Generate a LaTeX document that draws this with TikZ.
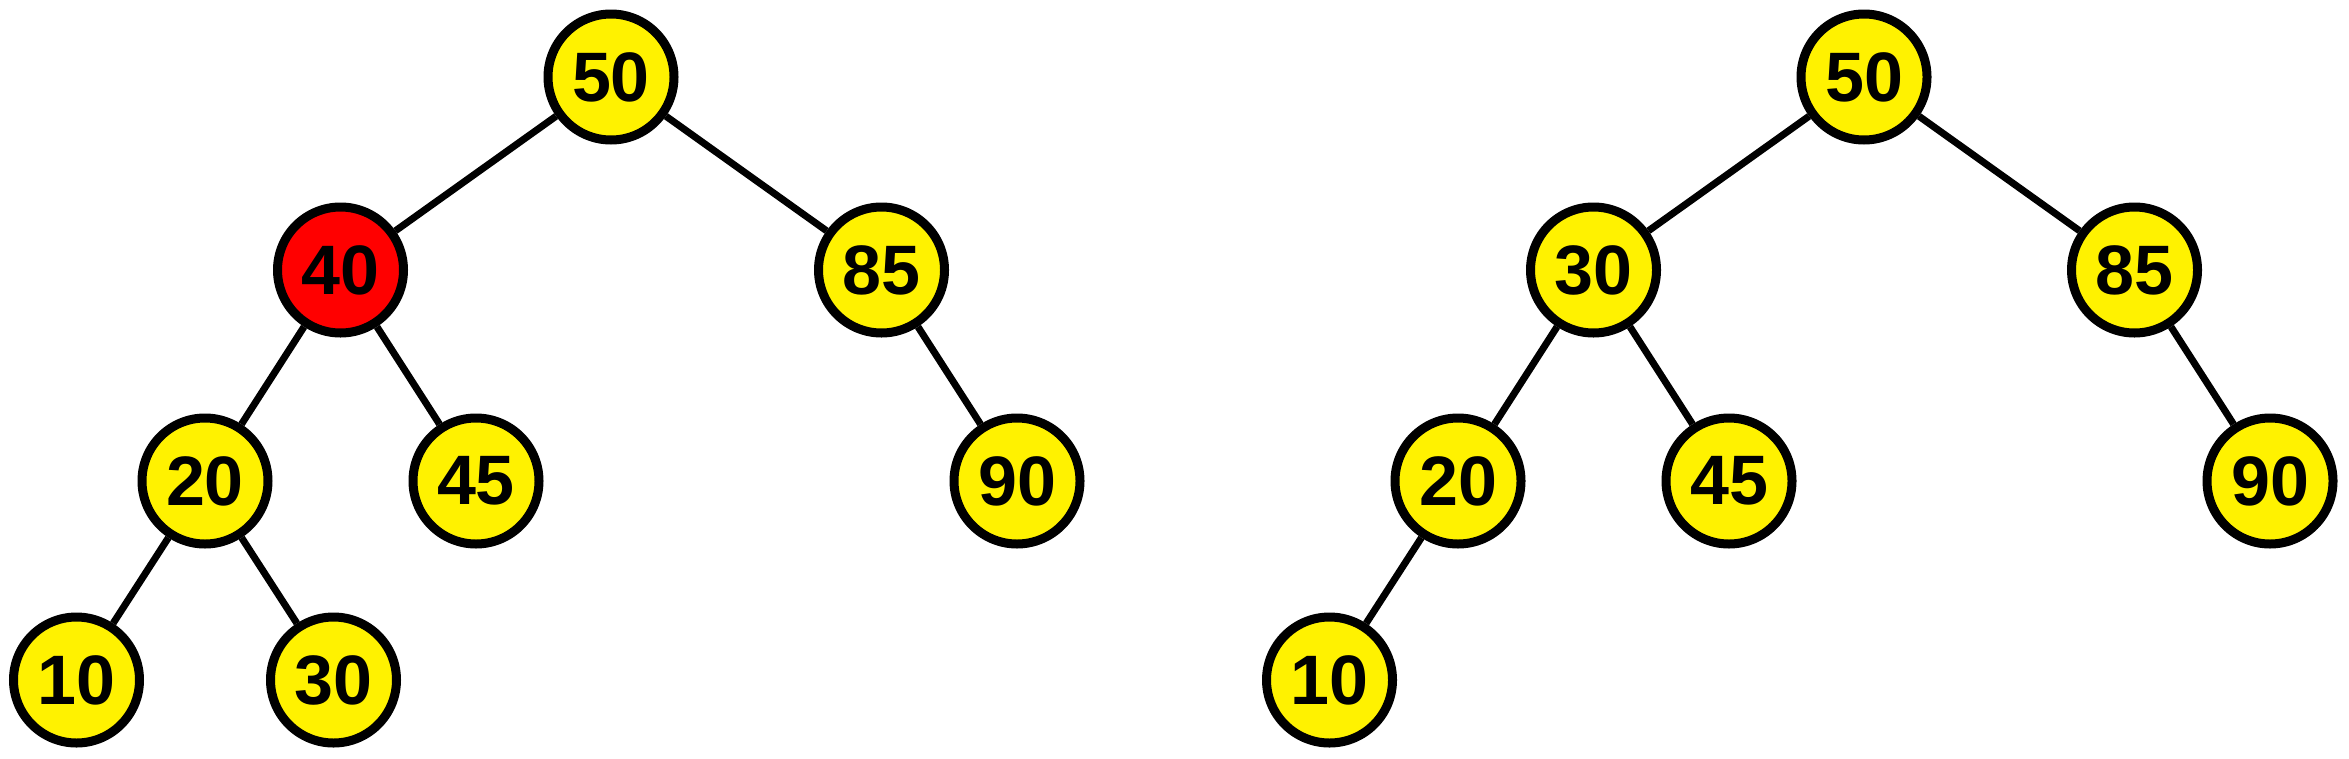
\documentclass[tikz,border=0pt]{standalone}
\usepackage{fontspec}
\setmainfont{Liberation Sans}
\usepackage{tikz}

\begin{document}
\begin{tikzpicture}[
		x=1pt, y=1pt,
		every node/.style = {shape=circle, draw, line width=9pt, fill=yellow,
			minimum size=126pt, inner sep=0pt,
			font=\fontsize{70}{84}\selectfont\bfseries},
		edge from parent/.style = {draw, line width=7pt},
		level 1/.style = {sibling distance=541pt, level distance=193pt},
		level 2/.style = {sibling distance=271pt, level distance=211pt},
		level 3/.style = {sibling distance=257pt, level distance=199pt}]
		\useasboundingbox (0,0) rectangle (2349,-758);
		% before
		\node (a50) at (611,-77) {50}
			child { node[fill=red] (a40) {40}
				child { node (a20) {20}
					child { node (a10) {10} }
					child { node (a30) {30} } }
				child { node (a45) {45} } }
			child { node (a85) {85}
				child[missing]
				child { node (a90) {90} } };
		% after
		\node (b50) at (1864,-77) {50}
			child { node (b30) {30}
				child { node (b20) {20}
					child { node (b10) {10} }
					child[missing] }
				child { node (b45) {45} } }
			child { node (b85) {85}
				child[missing]
				child { node (b90) {90} } };
	\end{tikzpicture}
\end{document}
